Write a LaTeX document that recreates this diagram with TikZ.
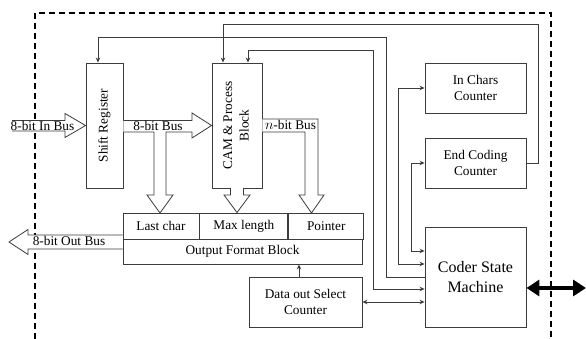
\documentclass[tikz,border=0pt]{standalone}
\usepackage{fontspec}
\setmainfont{Liberation Serif}
\usetikzlibrary{arrows.meta,calc,positioning}
\definecolor{linegrey}{RGB}{60,60,60}

\tikzset{
    blockbox/.style={draw=linegrey, line width=0.9pt, fill=white, inner sep=0pt,
        align=center, font=\fontsize{13.3}{16.5}\selectfont},
    busarrow/.style={draw=linegrey, fill=white, line width=0.8pt},
    buslabel/.style={inner sep=0pt, font=\fontsize{13.3}{16}\selectfont},
    ctrlarrow/.style={draw=linegrey, line width=0.9pt, -{Stealth[length=5pt,width=4.5pt]}},
    ctrlboth/.style={draw=linegrey, line width=0.9pt,
        {Stealth[length=5pt,width=4.5pt]}-{Stealth[length=5pt,width=4.5pt]}},
    frameline/.style={draw=black, line width=1.2pt, dash pattern=on 6pt off 4pt}
}

\begin{document}
\begin{tikzpicture}

    \useasboundingbox (0pt,0pt) rectangle (586pt,339pt);

    % 1. the dashed border (open at the bottom)
    \draw[frameline] (35pt,0pt) |- (551pt,326pt) -- (551pt,0pt);

    % 2. the blocks
    \node[blockbox, minimum width=37pt, minimum height=125pt] (shiftreg) at (104.5pt,213.5pt)
        {\rotatebox{90}{Shift Register}};
    \node[blockbox, minimum width=50pt, minimum height=125pt] (cam) at (237pt,213.5pt)
        {\rotatebox{90}{\begin{tabular}{@{}c@{}}CAM \& Process\\Block\end{tabular}}};
    \node[blockbox, minimum width=101pt, minimum height=50pt] (icc) at (475.5pt,251pt)
        {In Chars\\Counter};
    \node[blockbox, minimum width=101pt, minimum height=50pt] (ecc) at (475.5pt,176pt)
        {End Coding\\Counter};
    \node[blockbox, minimum width=101pt, minimum height=100pt,
        font=\fontsize{16}{20}\selectfont] (csm) at (475.5pt,62pt)
        {Coder State\\Machine};
    \node[blockbox, minimum width=113pt, minimum height=50pt] (doc) at (305.5pt,37pt)
        {Data out Select\\Counter};

    % output format block: three cells on top of one wide row
    \node[blockbox, minimum width=76pt, minimum height=26pt] (lastchar) at (161pt,113pt) {Last char};
    \node[blockbox, minimum width=88pt, minimum height=26pt, right=0pt of lastchar] (maxlen) {Max length};
    \node[blockbox, minimum width=75pt, minimum height=26pt, right=0pt of maxlen] (pointer) {Pointer};
    \node[blockbox, minimum width=239pt, minimum height=25pt] (ofb) at (242.5pt,87.5pt) {Output Format Block};

    % 3. the hollow bus arrows
    % 8-bit In Bus
    \draw[busarrow] (12pt,218.5pt) -- (65pt,218.5pt) -- (65pt,225.5pt) -- (shiftreg.west)
        -- (65pt,201.5pt) -- (65pt,208pt) -- (12pt,208pt);
    \node[buslabel] (inbus) at (42.5pt,213pt) {8-bit In Bus};

    % 8-bit Bus, with its branch down to Last char
    \draw[busarrow] (shiftreg.east |- 0,218.5pt) -- (192pt,218.5pt) -- (192pt,226pt) -- (cam.west)
        -- (192pt,201pt) -- (192pt,207pt) -- (166pt,207pt) -- (166pt,144pt) -- (173pt,144pt)
        -- (160pt,126pt) -- (147pt,144pt) -- (154pt,144pt) -- (154pt,207pt)
        -- (shiftreg.east |- 0,207pt);
    \node[buslabel] (midbus) at (158pt,213pt) {8-bit Bus};

    % CAM down to Max length
    \draw[busarrow] (230.5pt,151pt) -- (230.5pt,144pt) -- (224pt,144pt) -- (cam.south |- maxlen.north)
        -- (250pt,144pt) -- (243.5pt,144pt) -- (243.5pt,151pt);

    % n-bit Bus down to Pointer
    \draw[busarrow] (cam.east |- 0,220pt) -- (318pt,220pt) -- (318pt,144pt) -- (324pt,144pt)
        -- (311.5pt,126pt) -- (299pt,144pt) -- (305pt,144pt) -- (305pt,207pt) -- (cam.east |- 0,207pt);
    \node[buslabel] (nbus) at (290.5pt,214pt) {$n$-bit Bus};

    % 8-bit Out Bus
    \draw[busarrow] (ofb.west |- 0,104pt) -- (28pt,104pt) -- (28pt,109.5pt) -- (9pt,97pt)
        -- (28pt,84.5pt) -- (28pt,90pt) -- (ofb.west |- 0,90pt);
    \node[buslabel] (outbus) at (69pt,98pt) {8-bit Out Bus};

    % 4. control lines
    \draw[ctrlarrow] (ecc.east) -- ++(12pt,0) |- ([xshift=-14pt,yshift=38pt]cam.north)
        -- ([xshift=-14pt]cam.north);
    \draw[ctrlarrow] (csm.west) -- ++(-38pt,0) |- ([xshift=-6.5pt,yshift=25pt]shiftreg.north)
        -- ([xshift=-6.5pt]shiftreg.north);
    \draw[ctrlboth] ([yshift=-12pt]csm.west) -- ++(-51pt,0) |- ([xshift=11pt,yshift=12pt]cam.north)
        -- ([xshift=11pt]cam.north);
    \draw[ctrlboth] (icc.west) -- ++(-26pt,0) |- ([yshift=13pt]csm.west);
    \draw[ctrlboth] (ecc.west) -- ++(-13pt,0) |- ([yshift=26pt]csm.west);
    \draw[ctrlboth] (doc.east) -- (doc.east -| csm.west);
    \draw[ctrlarrow] ([xshift=-6.5pt]doc.north) -- ([xshift=-6.5pt]doc.north |- ofb.south);

    % 5. the external port
    \coordinate (port) at (586pt,51pt);
    \draw[line width=3.5pt, {Triangle[length=13pt,width=16pt]}-{Triangle[length=13pt,width=16pt]}]
        ([yshift=-11pt]csm.east) -- (port);

\end{tikzpicture}
\end{document}
